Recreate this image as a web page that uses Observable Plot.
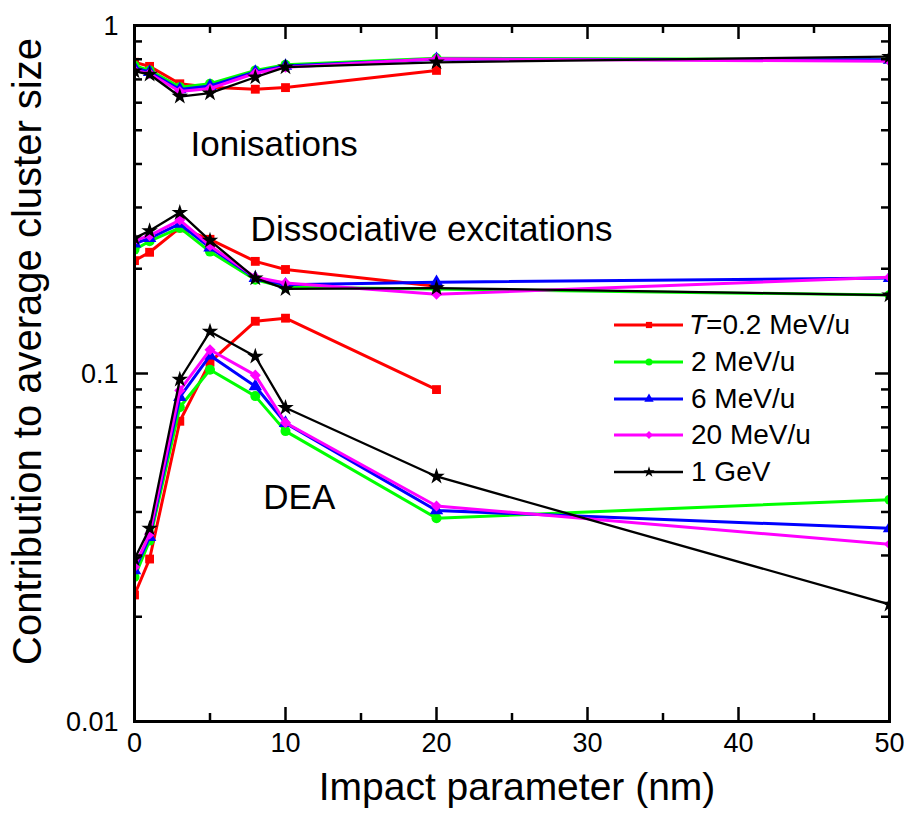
<!DOCTYPE html>
<html><head><meta charset="utf-8">
<script src="https://cdn.jsdelivr.net/npm/d3@7"></script>
<script src="https://cdn.jsdelivr.net/npm/@observablehq/plot@0.6"></script>
<style>
body{margin:0;background:#fff;}
#wrap{position:relative;width:904px;height:816px;font-family:"Liberation Sans",Arial,sans-serif;}
#legend{position:absolute;left:612px;top:306.6px;}
.row{display:flex;align-items:center;height:36.8px;font-size:28px;color:#000;white-space:nowrap;}
.row span{margin-left:4px;}
</style></head><body><div id="wrap"></div>
<script>
// Impact parameter values (nm)
const impact = [0, 1, 3, 5, 8, 10, 20, 50];

// Series
const seriesNames = ["T=0.2 MeV/u", "2 MeV/u", "6 MeV/u", "20 MeV/u", "1 GeV"];
const seriesColors = ["#ff0000", "#00ff00", "#0000ff", "#ff00ff", "#000000"];
const seriesSymbols = ["square", "circle", "triangle", "diamond2", "star"];

// Ionisations
const ionRed     = [0.784, 0.763, 0.680, 0.665, 0.656, 0.663, 0.743];
const ionGreen   = [0.767, 0.743, 0.665, 0.680, 0.743, 0.771, 0.805, 0.797];
const ionBlue    = [0.755, 0.735, 0.655, 0.670, 0.735, 0.765, 0.800, 0.797];
const ionMagenta = [0.743, 0.728, 0.646, 0.659, 0.729, 0.759, 0.802, 0.789];
const ionBlack   = [0.739, 0.723, 0.625, 0.639, 0.710, 0.759, 0.784, 0.814];

// Dissociative excitations
const disRed     = [0.211, 0.223, 0.262, 0.243, 0.210, 0.199, 0.178];
const disGreen   = [0.227, 0.240, 0.262, 0.224, 0.186, 0.177, 0.175, 0.168];
const disBlue    = [0.236, 0.245, 0.269, 0.230, 0.188, 0.180, 0.183, 0.188];
const disMagenta = [0.241, 0.249, 0.276, 0.233, 0.189, 0.182, 0.169, 0.189];
const disBlack   = [0.245, 0.257, 0.290, 0.241, 0.188, 0.175, 0.176, 0.168];

// DEA
const deaRed     = [0.0231, 0.0293, 0.0729, 0.1078, 0.1413, 0.1442, 0.0899];
const deaGreen   = [0.0260, 0.0331, 0.0800, 0.1025, 0.0861, 0.0683, 0.0384, 0.0434];
const deaBlue    = [0.0272, 0.0339, 0.0855, 0.1126, 0.0919, 0.0720, 0.0404, 0.0359];
const deaMagenta = [0.0278, 0.0346, 0.0894, 0.1170, 0.0989, 0.0722, 0.0416, 0.0323];
const deaBlack   = [0.0293, 0.0359, 0.0961, 0.1320, 0.1119, 0.0797, 0.0506, 0.0217];

// Axis ticks
const xMajor = [0, 10, 20, 30, 40, 50];
const xMinor = [5, 15, 25, 35, 45];
const yMajor = [0.01, 0.1, 1];
const yMinor = [0.02, 0.03, 0.04, 0.05, 0.06, 0.07, 0.08, 0.09, 0.2, 0.3, 0.4, 0.5, 0.6, 0.7, 0.8, 0.9];

// Annotations
const annotationLabels = ["Ionisations", "Dissociative excitations", "DEA"];
const annotationX = [3.71, 7.69, 8.53];
const annotationY = [0.423, 0.241, 0.0409];

const xTitle = "Impact parameter (nm)";
const yTitle = "Contribution to average cluster size";

// Build long table
const seriesData = [
  [ionRed, disRed, deaRed],
  [ionGreen, disGreen, deaGreen],
  [ionBlue, disBlue, deaBlue],
  [ionMagenta, disMagenta, deaMagenta],
  [ionBlack, disBlack, deaBlack]
];
const processNames = ["Ionisations", "Dissociative excitations", "DEA"];
const rows = [];
seriesData.forEach((procs, s) => procs.forEach((vals, p) => vals.forEach((v, i) =>
  rows.push({series: s, process: processNames[p], x: impact[i], y: v}))));

const W = 904, H = 816, mL = 134, mR = 15, mT = 25, mB = 95;
const fw = W - mL - mR, fh = H - mT - mB;
const majorLen = 14, minorLen = 8;

const seriesMarks = [];
seriesNames.forEach((name, s) => {
  const d = rows.filter(r => r.series === s);
  seriesMarks.push(Plot.line(d, {x: "x", y: "y", z: "process", stroke: seriesColors[s],
    strokeWidth: s === 4 ? 2.3 : 3, strokeLinejoin: "round", clip: true}));
  seriesMarks.push(Plot.dot(d, {x: "x", y: "y", symbol: () => seriesSymbols[s], r: s === 4 ? 5.2 : 5,
    fill: seriesColors[s], stroke: "none", clip: true}));
});

const chart = Plot.plot({
  width: W, height: H,
  marginLeft: mL, marginRight: mR, marginTop: mT, marginBottom: mB,
  style: {fontFamily: '"Liberation Sans", Arial, sans-serif', background: "white", color: "black", overflow: "visible"},
  x: {domain: [0, 50], axis: null},
  y: {type: "log", domain: [0.01, 1], axis: null},
  symbol: {type: "identity"},
  marks: [
    ...seriesMarks,
    // ticks (inward)
    Plot.tickX(xMajor, {x: d => d, insetTop: fh - majorLen, stroke: "black", strokeWidth: 2.5}),
    Plot.tickX(xMinor, {x: d => d, insetTop: fh - minorLen, stroke: "black", strokeWidth: 2.5}),
    Plot.tickX(xMajor, {x: d => d, insetBottom: fh - majorLen, stroke: "black", strokeWidth: 2.5}),
    Plot.tickX(xMinor, {x: d => d, insetBottom: fh - minorLen, stroke: "black", strokeWidth: 2.5}),
    Plot.tickY(yMajor, {y: d => d, insetRight: fw - majorLen, stroke: "black", strokeWidth: 2.5}),
    Plot.tickY(yMinor, {y: d => d, insetRight: fw - minorLen, stroke: "black", strokeWidth: 2.5}),
    Plot.tickY(yMajor, {y: d => d, insetLeft: fw - majorLen, stroke: "black", strokeWidth: 2.5}),
    Plot.tickY(yMinor, {y: d => d, insetLeft: fw - minorLen, stroke: "black", strokeWidth: 2.5}),
    Plot.frame({stroke: "black", strokeWidth: 3}),
    // tick labels
    Plot.text(xMajor, {x: d => d, text: d => String(d), frameAnchor: "bottom", dy: 30, fontSize: 27, fill: "black"}),
    Plot.text(yMajor, {y: d => d, text: d => String(d), frameAnchor: "left", textAnchor: "end", dx: -16, dy: 1, fontSize: 27, fill: "black"}),
    // axis titles
    Plot.text([xTitle], {text: d => d, frameAnchor: "bottom", textAnchor: "middle", dx: 5, dy: 78, fontSize: 39, fill: "black"}),
    Plot.text([yTitle], {text: d => d, frameAnchor: "left", textAnchor: "middle", rotate: -90, dx: -106, dy: -22, fontSize: 40, fill: "black"}),
    // annotations
    Plot.text(annotationLabels, {x: (d, i) => annotationX[i], y: (d, i) => annotationY[i], text: d => d,
      textAnchor: "start", lineAnchor: "bottom", fontSize: 35, fill: "black"})
  ]
});

const wrap = document.getElementById("wrap");
wrap.appendChild(chart);

// Legend (overlay inside the plot frame)
const legend = document.createElement("div");
legend.id = "legend";
const d3Symbols = {square: d3.symbolSquare, circle: d3.symbolCircle, triangle: d3.symbolTriangle, diamond2: d3.symbolDiamond2, star: d3.symbolStar};
seriesNames.forEach((name, s) => {
  const row = document.createElement("div");
  row.className = "row";
  const svg = d3.create("svg").attr("width", 73).attr("height", 20);
  svg.append("line").attr("x1", 2).attr("x2", 71).attr("y1", 10).attr("y2", 10)
    .attr("stroke", seriesColors[s]).attr("stroke-width", s === 4 ? 2.3 : 3);
  svg.append("path").attr("transform", "translate(37,10)")
    .attr("d", d3.symbol(d3Symbols[seriesSymbols[s]], Math.PI * 3.5 * 3.5)())
    .attr("fill", seriesColors[s]);
  row.appendChild(svg.node());
  const span = document.createElement("span");
  if (name.startsWith("T=")) {
    span.innerHTML = "<i>T</i>" + name.slice(1);
  } else {
    span.textContent = name;
    span.style.marginLeft = "6px";
  }
  row.appendChild(span);
  legend.appendChild(row);
});
wrap.appendChild(legend);
</script>
</body></html>
